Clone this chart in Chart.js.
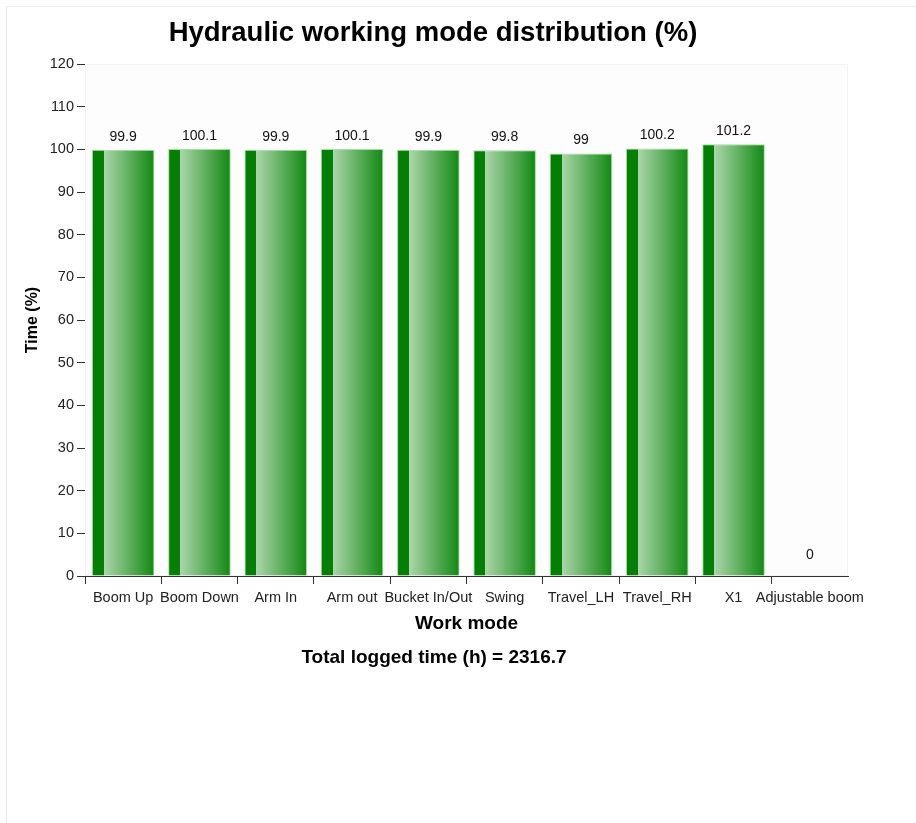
<!DOCTYPE html>
<html>
<head>
<meta charset="utf-8">
<script src="https://cdn.jsdelivr.net/npm/chart.js@4/dist/chart.umd.min.js"></script>
<style>
  html, body { margin: 0; padding: 0; background: #fff; overflow: hidden; }
  #wrap { position: relative; width: 916px; height: 823px; font-family: "Liberation Sans", Arial, sans-serif; }
  #frame { position: absolute; left: 6px; top: 6px; width: 1000px; height: 1000px; border-left: 1px solid #e6e6e6; border-top: 1px solid #ececec; }
  #chart { position: absolute; left: 0; top: 0; }
  .txt { position: absolute; left: 0; text-align: center; font-weight: bold; color: #000; white-space: nowrap; }
  #title { width: 866px; top: 16px; font-size: 27.5px; line-height: 32px; }
  #footer { width: 868px; top: 646px; font-size: 19px; line-height: 22px; }
</style>
</head>
<body>
<div id="wrap">
  <div id="frame"></div>
  <canvas id="chart" width="916" height="823"></canvas>
  <div class="txt" id="title">Hydraulic working mode distribution (%)</div>
  <div class="txt" id="footer"></div>
</div>
<script>
// ---- data ----
const categories = ['Boom Up', 'Boom Down', 'Arm In', 'Arm out', 'Bucket In/Out', 'Swing', 'Travel_LH', 'Travel_RH', 'X1', 'Adjustable boom'];
const timePercent = [99.9, 100.1, 99.9, 100.1, 99.9, 99.8, 99, 100.2, 101.2, 0];
const yMin = 0;
const yMax = 120;
const yStep = 10;
const totalLoggedHours = 2316.7;
const chartTitle = 'Hydraulic working mode distribution (%)';
const xTitle = 'Work mode';
const yTitle = 'Time (%)';

document.getElementById('title').textContent = chartTitle;
document.getElementById('footer').textContent = 'Total logged time (h) = ' + totalLoggedHours;

const FONT = '"Liberation Sans", Arial, sans-serif';
const BAR_PCT = 0.82;

function barGradient(context) {
  const chart = context.chart;
  const xs = chart.scales && chart.scales.x;
  if (!chart.chartArea || !xs) return '#108810';
  const band = xs.width / categories.length;
  const cx = xs.getPixelForValue(context.dataIndex);
  const w = band * BAR_PCT;
  const g = chart.ctx.createLinearGradient(cx - w / 2, 0, cx + w / 2, 0);
  g.addColorStop(0, '#038003');
  g.addColorStop(0.19, '#038003');
  g.addColorStop(0.19, '#abd6ab');
  g.addColorStop(1, '#118911');
  return g;
}

const plotBg = {
  id: 'plotBg',
  beforeDatasetsDraw(chart) {
    const { ctx, chartArea: a } = chart;
    ctx.save();
    ctx.fillStyle = '#fdfdfd';
    ctx.fillRect(a.left, a.top, a.right - a.left, a.bottom - a.top);
    ctx.strokeStyle = '#f3f3f3';
    ctx.lineWidth = 1;
    ctx.strokeRect(a.left + 0.5, a.top + 0.5, a.right - a.left - 1, a.bottom - a.top - 1);
    ctx.restore();
  }
};

const valueLabels = {
  id: 'valueLabels',
  afterDatasetsDraw(chart) {
    const { ctx } = chart;
    const meta = chart.getDatasetMeta(0);
    ctx.save();
    ctx.font = '14px ' + FONT;
    ctx.fillStyle = '#111';
    ctx.textAlign = 'center';
    ctx.textBaseline = 'bottom';
    meta.data.forEach((bar, i) => {
      const v = chart.data.datasets[0].data[i];
      const off = v === 0 ? 14 : 6;
      ctx.fillText(String(v), bar.x, bar.y - off);
    });
    ctx.restore();
  }
};

new Chart(document.getElementById('chart'), {
  type: 'bar',
  data: {
    labels: categories,
    datasets: [{
      data: timePercent,
      backgroundColor: barGradient,
      borderColor: 'rgba(150,220,150,0.9)',
      borderWidth: 1,
      barPercentage: BAR_PCT,
      categoryPercentage: 1
    }]
  },
  options: {
    responsive: false,
    devicePixelRatio: 1,
    animation: false,
    layout: { padding: { top: 64, right: 68, bottom: 183, left: 0 } },
    plugins: {
      legend: { display: false },
      tooltip: { enabled: false },
      title: { display: false }
    },
    scales: {
      x: {
        grid: {
          offset: true,
          drawOnChartArea: false,
          drawTicks: true,
          tickLength: 8,
          color: (c) => (c.type === 'tick' ? '#333' : 'rgba(0,0,0,0)')
        },
        border: { display: true, color: '#333', width: 1 },
        ticks: {
          color: '#222',
          font: { family: FONT, size: 14.5 },
          padding: 5,
          autoSkip: false,
          maxRotation: 0,
          minRotation: 0
        },
        title: {
          display: true,
          text: xTitle,
          color: '#000',
          font: { family: FONT, size: 19, weight: 'bold' },
          padding: { top: 0, bottom: 5 }
        },
        afterFit(s) { s.height = 64; }
      },
      y: {
        min: yMin,
        max: yMax,
        grid: { drawOnChartArea: false, drawTicks: true, tickLength: 8, color: '#333' },
        border: { display: true, color: '#333', width: 1 },
        ticks: {
          stepSize: yStep,
          color: '#222',
          font: { family: FONT, size: 14.5 },
          padding: 3
        },
        title: {
          display: true,
          text: yTitle,
          color: '#000',
          font: { family: FONT, size: 16, weight: 'bold' },
          padding: { top: 23, bottom: 0 }
        },
        afterFit(s) { s.width = 85; }
      }
    }
  },
  plugins: [plotBg, valueLabels]
});
</script>
</body>
</html>
